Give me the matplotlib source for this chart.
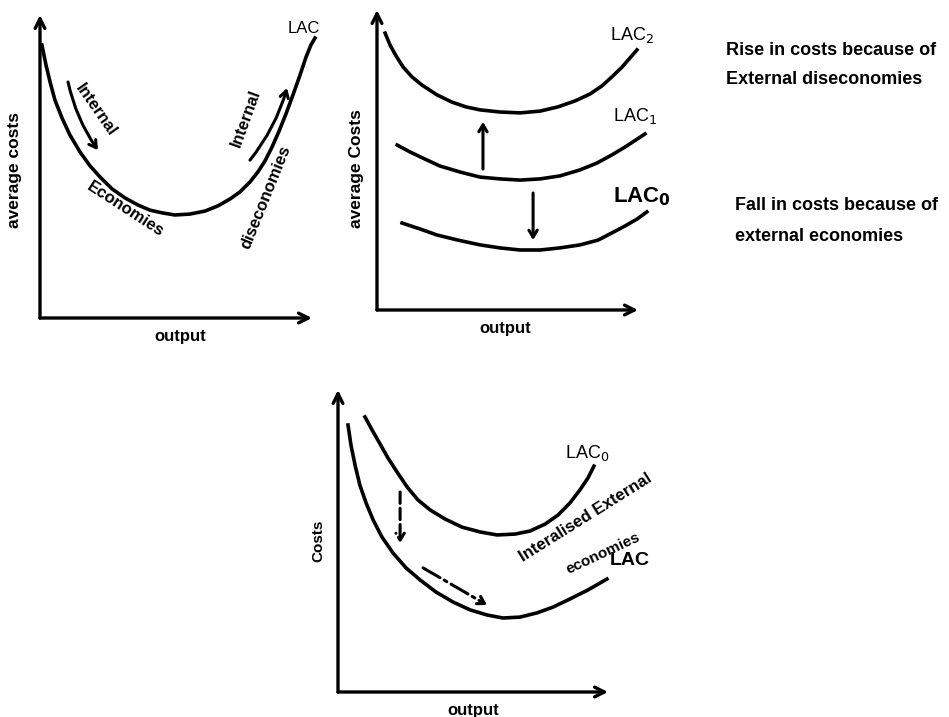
import matplotlib
matplotlib.use('Agg')
import matplotlib.pyplot as plt

plt.rcParams['font.family'] = ['Liberation Sans', 'DejaVu Sans']

# ---- panel 1: internal economies / diseconomies (x = output, y = average cost)
lac_x = [0.07, 0.22, 0.37, 0.55, 0.81, 1.10, 1.47, 1.84, 2.21, 2.65, 3.13, 3.60, 4.04, 4.49,
         4.96, 5.51, 6.07, 6.54, 6.99, 7.35, 7.72, 8.01, 8.27, 8.53, 8.79, 9.04, 9.30, 9.56,
         9.78, 9.96, 10.11]
lac_y = [9.01, 8.35, 7.79, 7.19, 6.60, 6.04, 5.48, 5.02, 4.65, 4.26, 3.96, 3.73, 3.56, 3.47,
         3.40, 3.43, 3.53, 3.70, 3.93, 4.16, 4.49, 4.82, 5.18, 5.64, 6.17, 6.73, 7.36, 8.02,
         8.61, 9.01, 9.24]

# ---- panel 2: external economies / diseconomies shift the LAC curve
lac2_x = [0.31, 0.50, 0.73, 1.00, 1.34, 1.72, 2.30, 2.87, 3.41, 3.95, 4.71, 5.48, 6.25, 6.93,
          7.59, 8.16, 8.62, 9.00, 9.39, 9.69, 9.96]
lac2_y = [9.23, 8.83, 8.47, 8.10, 7.77, 7.50, 7.17, 6.93, 6.77, 6.67, 6.60, 6.57, 6.63, 6.77,
          6.97, 7.20, 7.47, 7.77, 8.10, 8.40, 8.67]
lac1_x = [0.77, 1.26, 1.84, 2.41, 3.18, 3.95, 4.71, 5.48, 6.25, 7.01, 7.78, 8.43, 9.00, 9.50,
          9.92, 10.27]
lac1_y = [5.50, 5.27, 5.03, 4.80, 4.60, 4.43, 4.37, 4.33, 4.37, 4.47, 4.67, 4.90, 5.17, 5.43,
          5.67, 5.87]
lac0_x = [0.96, 1.65, 2.30, 3.10, 3.95, 4.71, 5.48, 6.25, 7.01, 7.78, 8.47, 9.00, 9.50, 9.96,
          10.34]
lac0_y = [2.90, 2.70, 2.50, 2.33, 2.17, 2.07, 2.00, 2.00, 2.07, 2.17, 2.33, 2.57, 2.80, 3.03,
          3.27]

# ---- panel 3: internalised external economies
up_x = [1.00, 1.26, 1.56, 1.85, 2.19, 2.56, 2.96, 3.41, 3.96, 4.59, 5.26, 5.89, 6.56, 7.11,
        7.67, 8.15, 8.59, 8.96, 9.26, 9.48]
up_y = [9.11, 8.68, 8.21, 7.75, 7.28, 6.79, 6.36, 6.03, 5.73, 5.46, 5.30, 5.20, 5.23, 5.33,
        5.56, 5.86, 6.26, 6.69, 7.09, 7.48]
low_x = [0.37, 0.48, 0.63, 0.81, 1.04, 1.30, 1.63, 2.04, 2.52, 3.04, 3.63, 4.26, 4.89, 5.52,
         6.11, 6.74, 7.37, 7.96, 8.59, 9.26, 9.96]
low_y = [8.84, 8.18, 7.52, 6.85, 6.26, 5.70, 5.13, 4.60, 4.11, 3.71, 3.31, 2.98, 2.72, 2.55,
         2.45, 2.48, 2.62, 2.81, 3.08, 3.38, 3.74]

W, H = 949, 717
fig = plt.figure(figsize=(W / 100, H / 100), dpi=100)
fig.patch.set_facecolor('white')

LW = 2.6


def make_panel(left, top, right, bottom, ylabel, xlab_dx, ylab_dx, ylab_y, ylab_size):
    # panel box given as pixel edges of the drawn axes (origin / arrow tips)
    ax = fig.add_axes([left / W, 1 - bottom / H, (right - left) / W, (bottom - top) / H])
    ax.set_xlim(0, 10)
    ax.set_ylim(0, 10)
    ax.axis('off')
    arrow = dict(arrowstyle='->,head_length=0.7,head_width=0.35', lw=2.4, color='black',
                 shrinkA=0, shrinkB=0)
    ax.annotate('', xy=(0, 1), xytext=(0, 0), xycoords='axes fraction', arrowprops=arrow)
    ax.annotate('', xy=(1, 0), xytext=(0, 0), xycoords='axes fraction', arrowprops=arrow)
    ax.text(xlab_dx, -0.06, 'output', transform=ax.transAxes, ha='center', va='center',
            fontsize=12, fontweight='bold')
    ax.text(ylab_dx, ylab_y, ylabel, transform=ax.transAxes, ha='center', va='center',
            rotation=90, fontsize=ylab_size, fontweight='bold')
    return ax


def arrow_between(ax, start, end, style='-', rad=0.0, lw=2.2):
    ax.annotate('', xy=end, xytext=start,
                arrowprops=dict(arrowstyle='->,head_length=0.5,head_width=0.3', lw=lw,
                                color='black', linestyle=style, shrinkA=0, shrinkB=0,
                                connectionstyle=f'arc3,rad={rad}'))


# panel 1
ax1 = make_panel(40, 15, 312, 318, 'average costs', 0.515, -0.092, 0.49, 12.5)
ax1.plot(lac_x, lac_y, color='black', lw=LW, clip_on=False)
ax1.text(9.1, 9.55, 'LAC', fontsize=12, ha='left', va='center')
arrow_between(ax1, (1.03, 7.79), (2.13, 5.54), rad=0.1)
arrow_between(ax1, (7.72, 5.21), (9.08, 7.59), rad=0.1)
ax1.text(2.06, 6.86, 'Internal', rotation=-55, fontsize=12, fontweight='bold',
         ha='center', va='center')
ax1.text(3.15, 3.58, 'Economies', rotation=-33, fontsize=12, fontweight='bold',
         ha='center', va='center')
ax1.text(7.57, 6.60, 'Internal', rotation=70, fontsize=12, fontweight='bold',
         ha='center', va='center')
ax1.text(8.30, 4.00, 'diseconomies', rotation=68, fontsize=12, fontweight='bold',
         ha='center', va='center')

# panel 2
ax2 = make_panel(377, 10, 638, 310, 'average Costs', 0.49, -0.077, 0.47, 12.5)
ax2.plot(lac2_x, lac2_y, color='black', lw=LW, clip_on=False)
ax2.plot(lac1_x, lac1_y, color='black', lw=LW, clip_on=False)
ax2.plot(lac0_x, lac0_y, color='black', lw=LW, clip_on=False)
ax2.text(8.93, 9.17, 'LAC$_2$', fontsize=13, ha='left', va='center')
ax2.text(9.04, 6.48, 'LAC$_1$', fontsize=13, ha='left', va='center')
ax2.text(9.04, 3.77, r'LAC$_\mathbf{0}$', fontsize=16, fontweight='bold',
         ha='left', va='center')
arrow_between(ax2, (4.06, 4.70), (4.06, 6.27))
arrow_between(ax2, (5.98, 3.90), (5.98, 2.33))

fig.text(726 / W, 1 - 65 / H, 'Rise in costs because of\nExternal diseconomies',
         ha='left', va='center', fontsize=13, fontweight='bold', linespacing=1.9)
fig.text(735 / W, 1 - 221 / H, 'Fall in costs because of\nexternal economies',
         ha='left', va='center', fontsize=13, fontweight='bold', linespacing=2.05)

# panel 3
ax3 = make_panel(338, 390, 608, 692, 'Costs', 0.5, -0.074, 0.5, 11)
ax3.plot(up_x, up_y, color='black', lw=LW, clip_on=False)
ax3.plot(low_x, low_y, color='black', lw=LW, clip_on=False)
ax3.text(8.41, 7.91, 'LAC$_0$', fontsize=13, ha='left', va='center')
ax3.text(10.07, 4.34, 'LAC', fontsize=14, fontweight='bold', ha='left', va='center')
arrow_between(ax3, (2.30, 6.62), (2.30, 4.93), style='--')
arrow_between(ax3, (3.15, 4.11), (5.52, 2.88), style='-.')
ax3.text(9.15, 5.79, 'Interalised External', rotation=32, fontsize=12, fontweight='bold',
         ha='center', va='center')
ax3.text(9.81, 4.60, 'economies', rotation=25, fontsize=11, fontweight='bold',
         ha='center', va='center')

fig.savefig('out.png', dpi=100, facecolor='white')
